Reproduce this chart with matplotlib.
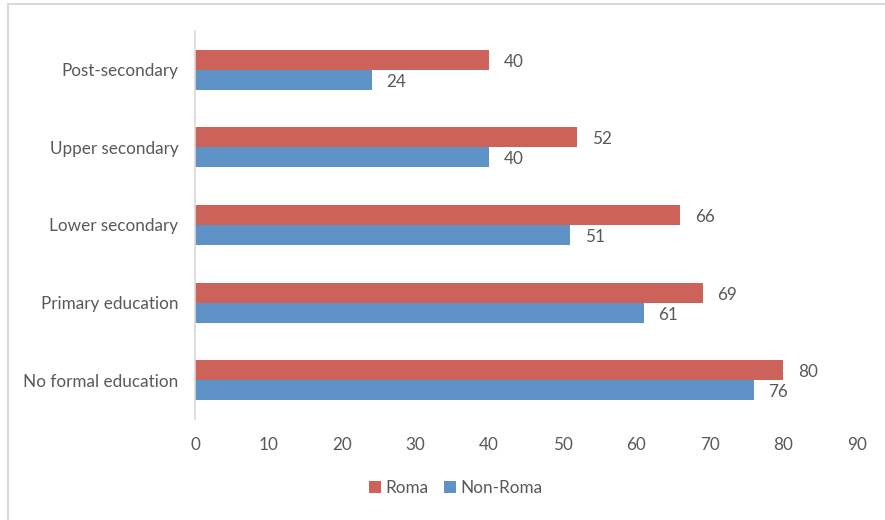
import matplotlib
matplotlib.use("Agg")
import matplotlib.pyplot as plt
from matplotlib.patches import Rectangle
import numpy as np

categories = ["No formal education", "Primary education", "Lower secondary", "Upper secondary", "Post-secondary"]
roma = [80, 69, 66, 52, 40]
non_roma = [76, 61, 51, 40, 24]
xticks = [0, 10, 20, 30, 40, 50, 60, 70, 80, 90]

plt.rcParams['font.family'] = ['Lato', 'DejaVu Sans']
TXT = '#595959'
RED = '#CD625B'
BLUE = '#5F93C8'
FS = 12.3

fig = plt.figure(figsize=(8.85, 5.2), dpi=100)
ax = fig.add_axes([195/885, 1-419/520, 662/885, 388/520])

y = np.arange(len(categories))
h = 0.258
b1 = ax.barh(y + h/2, roma, height=h, color=RED, label='Roma')
b2 = ax.barh(y - h/2, non_roma, height=h, color=BLUE, label='Non-Roma')

for bars, vals in ((b1, roma), (b2, non_roma)):
    for bar, v in zip(bars, vals):
        ax.annotate(str(v), (bar.get_width(), bar.get_y() + bar.get_height()/2),
                    xytext=(10.5, -1.5), textcoords='offset points', va='center', ha='left',
                    fontsize=FS, color=TXT)

ax.set_xlim(0, 90)
ax.set_ylim(-0.5, len(categories) - 0.5)
ax.set_xticks(xticks)
ax.set_xticklabels([str(t) for t in xticks])
ax.set_yticks(y)
ax.set_yticklabels(categories)
ax.tick_params(axis='both', length=0, labelsize=FS, labelcolor=TXT)
ax.tick_params(axis='x', pad=13)
ax.tick_params(axis='y', pad=12)
for s in ('top', 'right', 'bottom'):
    ax.spines[s].set_visible(False)
ax.spines['left'].set_color('#D9D9D9')
ax.spines['left'].set_linewidth(1.2)

leg = fig.legend(handles=[b1, b2], labels=['Roma', 'Non-Roma'], loc='center',
                 bbox_to_anchor=(456/885, 1-488/520), ncol=2, frameon=False,
                 fontsize=FS, handlelength=0.7, handleheight=0.7, handletextpad=0.25,
                 columnspacing=0.9)
for t in leg.get_texts():
    t.set_color(TXT)

fig.add_artist(Rectangle((8/885, -0.1), 1.2, 1 - 4.5/520 + 0.1, transform=fig.transFigure,
                         fill=False, edgecolor='#D9D9D9', linewidth=1.5))

fig.savefig('out.png', dpi=100)
